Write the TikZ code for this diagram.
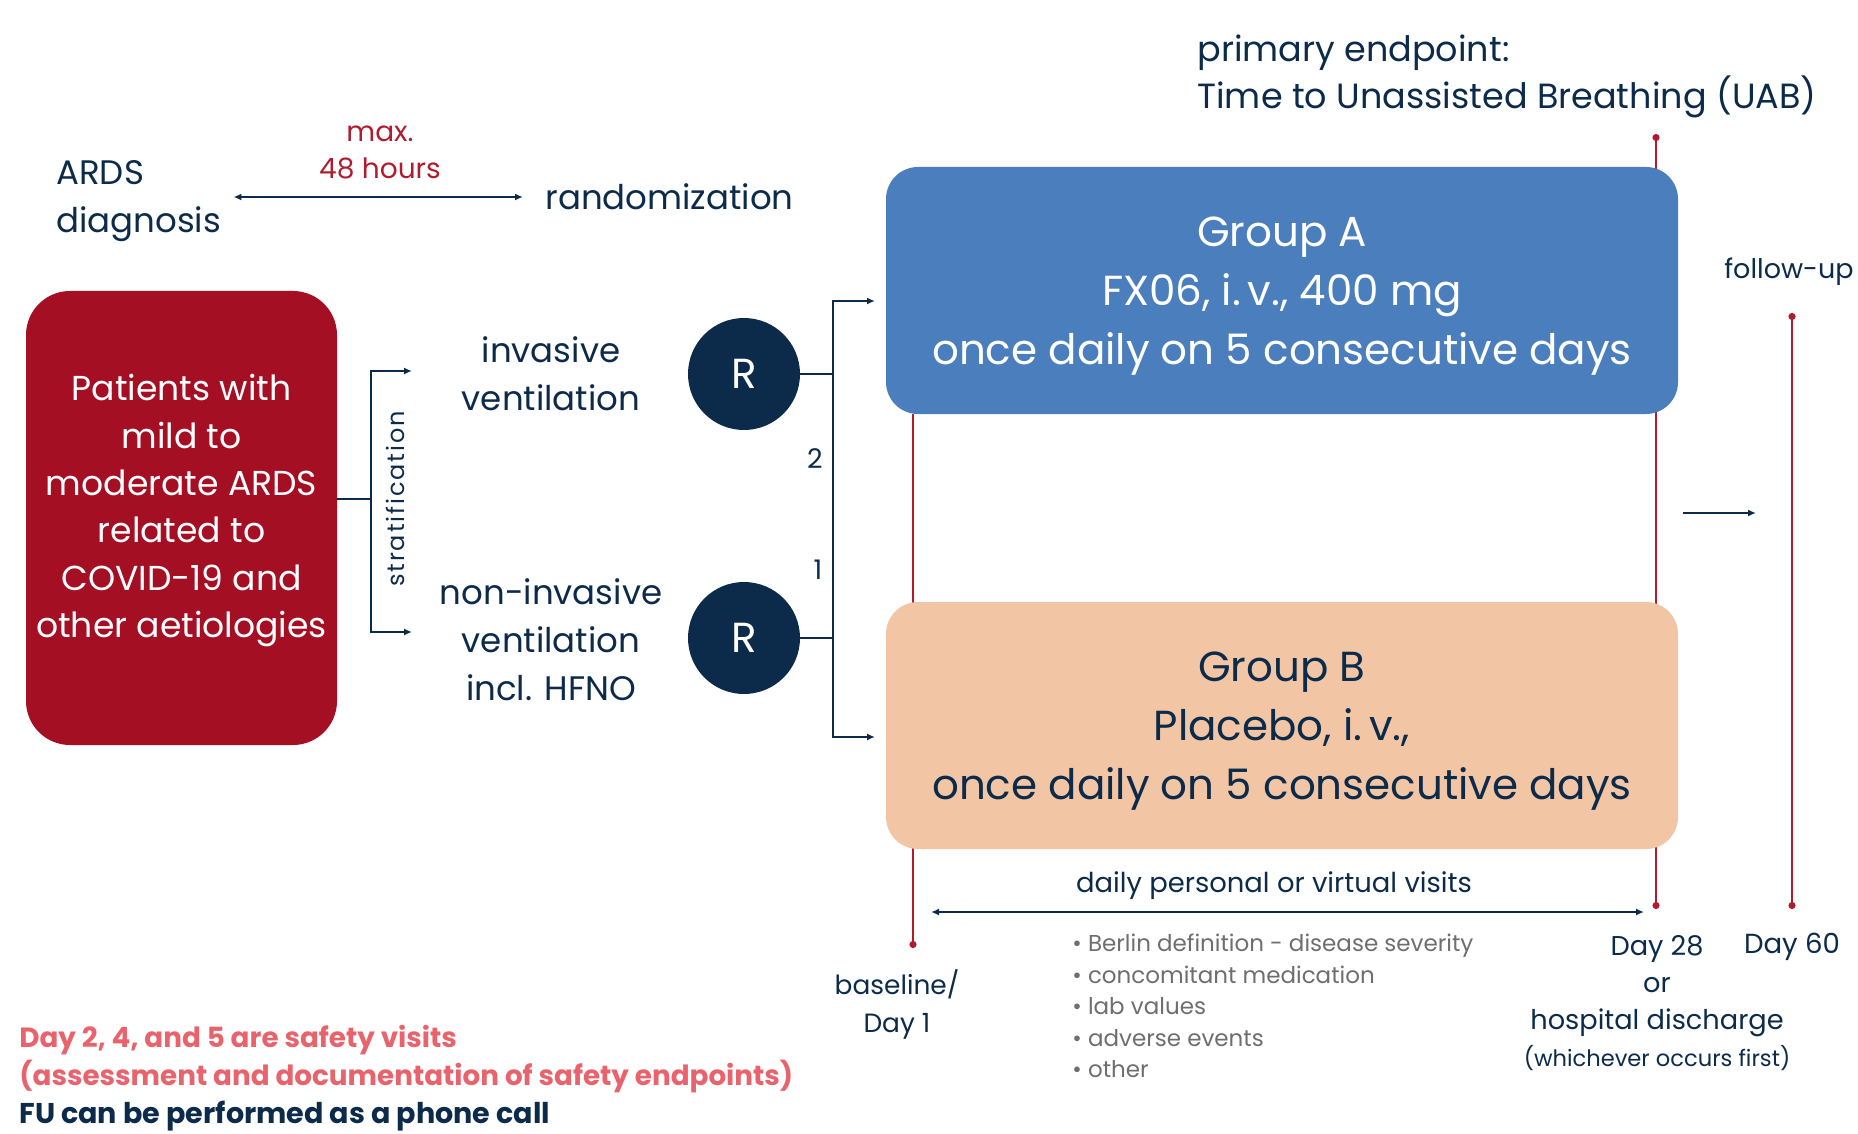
\documentclass[tikz,border=0pt]{standalone}
\usepackage{fontspec}
\setmainfont{Poppins}
\usepackage{xcolor}
\usetikzlibrary{arrows.meta,positioning,backgrounds}

\definecolor{navy}{HTML}{0C2B4B}
\definecolor{crimson}{HTML}{A50F24}
\definecolor{lnred}{HTML}{B01C2E}
\definecolor{grpblue}{HTML}{4A7EBD}
\definecolor{peach}{HTML}{F2C6A5}
\definecolor{salmon}{HTML}{E8636B}
\definecolor{bulgray}{HTML}{6E6E6E}

\newcommand{\fsz}[2]{\fontsize{#1}{#2}\selectfont}

\begin{document}
\begin{tikzpicture}[x=0.5pt,y=-0.5pt,
  txt/.style={text=navy,inner sep=0pt,align=center,font=\fsz{17}{24}},
  small/.style={txt,font=\fsz{13.5}{18.5}},
  group/.style={rectangle,rounded corners=16pt,minimum width=396pt,minimum height=123.5pt,align=center,inner sep=0pt,font=\fsz{21}{29.5}},
  rnode/.style={circle,fill=navy,text=white,minimum size=56pt,inner sep=0pt,font=\fsz{21}{21}},
  line/.style={navy,line width=1pt},
  arr/.style={line,-{Latex[length=4pt,width=3.5pt]}},
  darr/.style={line,{Latex[length=4pt,width=3.5pt]}-{Latex[length=4pt,width=3.5pt]}},
  tl/.style={lnred,line width=1pt}
]
\useasboundingbox (0,0) rectangle (1858,1134);

% top line: diagnosis to randomization
\node[txt,anchor=west,align=left] (diag) at (56,201) {ARDS\\diagnosis};
\node[small,text=lnred,font=\fsz{14}{18.5}] (maxh) at (380,152) {max.\\48 hours};
\node[txt,anchor=west] (rand) at (545,197) {randomization};
\draw[darr,shorten <=6pt,shorten >=11pt] (diag.east |- rand) -- (rand.west);

\node[txt,anchor=west,align=left,font=\fsz{17.5}{23.5}] (endp) at (1197,76) {primary endpoint:\\Time to Unassisted Breathing (UAB)};

% patients and stratification
\node[rectangle,rounded corners=22pt,fill=crimson,text=white,minimum width=155.5pt,minimum height=227pt,align=center,inner sep=0pt,font=\fsz{17.3}{23.7}] (pat) at (181.5,518) {Patients with\\mild to\\moderate ARDS\\related to\\COVID-19 and\\other aetiologies\\[-11.7pt]\mbox{}};
\node[small,rotate=90,font=\fsz{12}{12}\addfontfeature{LetterSpace=8}] (strat) at (395,499) {stratification};
\node[txt] (inv) at (551,374) {invasive\\ventilation};
\node[txt] (noninv) at (551,640) {non-invasive\\ventilation\\incl. HFNO};

\coordinate (sbus) at (371,499);
\coordinate (invIn) at (412,371);
\coordinate (nonIn) at (412,632);
\draw[line] (pat.east |- sbus) -- (sbus);
\draw[arr] (sbus) |- (invIn);
\draw[arr] (sbus) |- (nonIn);

% randomization 2:1
\node[rnode] (r1) at (744,374) {R};
\node[rnode] (r2) at (744,638) {R};
\node[small] (two) at (815,459) {2};
\node[small] (one) at (818,570) {1};

\coordinate (rbus) at (833,520);
\coordinate (aIn) at (875,301);
\coordinate (bIn) at (875,737);
\draw[line] (r1.east) -- (r1.east -| rbus);
\draw[line] (r2.east) -- (r2.east -| rbus);
\draw[arr] (rbus) |- (aIn);
\draw[arr] (rbus) |- (bIn);

% treatment groups
\node[group,fill=grpblue,text=white] (grpA) at (1282,290.5) {\rule{0pt}{20pt}Group A\\FX06, i.\,v., 400 mg\\once daily on 5 consecutive days};
\node[group,fill=peach,text=navy] (grpB) at (1282,725.5) {\rule{0pt}{20pt}Group B\\Placebo, i.\,v.,\\once daily on 5 consecutive days};

% time line
\coordinate (base) at (913,948);
\coordinate (uab) at (1656,134);
\coordinate (end28) at (1656,909);
\coordinate (fu) at (1792,313);
\coordinate (end60) at (1792,909);
\begin{scope}[on background layer]
\draw[tl,-{Circle[length=3.5pt]}] (grpA.south -| base) -- (base);
\draw[tl,{Circle[length=3.5pt]}-{Circle[length=3.5pt]}] (uab) -- (end28);
\draw[tl,{Circle[length=3.5pt]}-{Circle[length=3.5pt]}] (fu) -- (end60);
\end{scope}

\node[small,anchor=east,font=\fsz{13.5}{18.5}] (follow) at (1854,272) {follow-up};
\coordinate (fuL) at (1683,513);
\coordinate (fuR) at (1756,513);
\draw[arr] (fuL) -- (fuR);

\node[small,font=\fsz{13.7}{18.5}] (visits) at (1274,886) {daily personal or virtual visits};
\coordinate (vL) at (931,912);
\coordinate (vR) at (1644,912);
\draw[darr] (vL) -- (vR);

\node[txt,anchor=west,align=left,text=bulgray,font=\fsz{11.5}{15.7}] (checks) at (1072,1006) {\textbullet\ Berlin definition - disease severity\\\textbullet\ concomitant medication\\\textbullet\ lab values\\\textbullet\ adverse events\\\textbullet\ other};

\node[small,font=\fsz{13.2}{19}] (basel) at (897,1004) {baseline/\\Day 1};
\node[small,font=\fsz{13.6}{18.5},anchor=north] (d28) at (1657,935) {Day 28\\or\\hospital discharge\\{\fsz{11.3}{17}(whichever occurs first)}};
\node[small,font=\fsz{13.8}{18.5}] (d60) at (1792,947) {Day 60};

% notes
\node[txt,anchor=west,align=left,text=salmon,font=\bfseries\fsz{13.9}{19}] (safety) at (19,1059) {Day 2, 4, and 5 are safety visits\\(assessment and documentation of safety endpoints)};
\node[txt,anchor=west,align=left,font=\bfseries\fsz{14.3}{19}] (fucall) at (19,1116) {FU can be performed as a phone call};

\end{tikzpicture}
\end{document}
